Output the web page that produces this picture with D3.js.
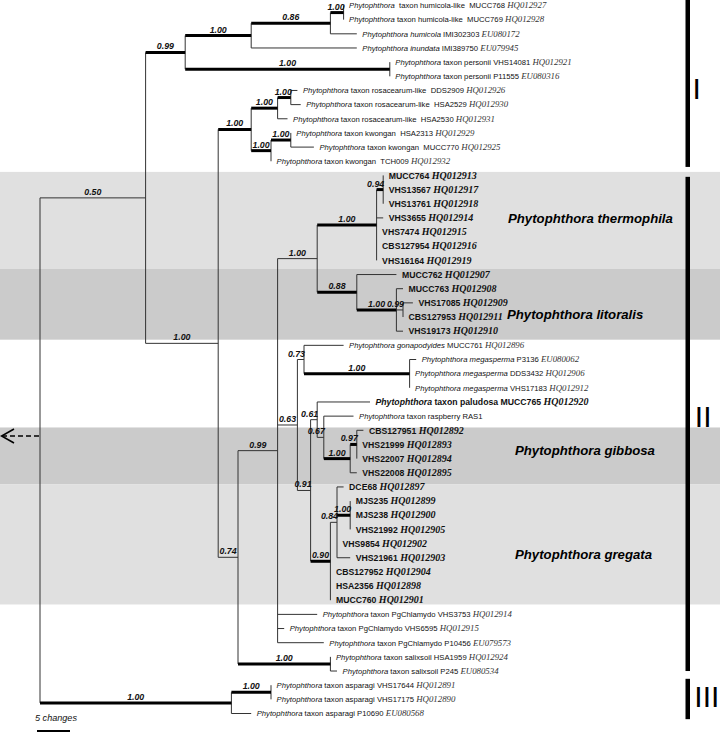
<!DOCTYPE html>
<html><head><meta charset="utf-8">
<script src="https://cdn.jsdelivr.net/npm/d3@7"></script>
<style>
body{margin:0;background:#fff}
svg{display:block}
text{white-space:pre}
</style>
</head><body>
<svg id="chart" width="720" height="733"></svg>
<script>
// ================= DATA =================
// internal clades: [id, parent, branch length (changes), posterior probability, bold branch]
const clades = [
  ["root", "", 0, null, false],
  ["A", "root", 16, 0.50, false],
  ["T1", "A", 6, 0.99, true],
  ["HUM", "T1", 10, 1.00, true],
  ["H086", "HUM", 12, 0.86, true],
  ["H100", "H086", 2, 1.00, true],
  ["PER", "T1", 31, 1.00, true],
  ["B", "A", 11, 1.00, false],
  ["C", "B", 5, 1.00, true],
  ["ROS", "C", 4, 1.00, true],
  ["ROS2", "ROS", 2, 1.00, true],
  ["KW", "C", 3, 1.00, true],
  ["KW2", "KW", 3, 1.00, true],
  ["D", "B", 3, 0.74, false],
  ["E", "D", 6, 0.99, false],
  ["F", "E", 6, 1.00, false],
  ["THE", "F", 9, 1.00, true],
  ["T094", "THE", 1, 0.94, true],
  ["G", "F", 6, 0.88, true],
  ["LIT", "G", 6, 1.00, true],
  ["L099", "LIT", 1, 0.99, false],
  ["H", "E", 3, 0.63, false],
  ["I", "H", 1, 0.73, false],
  ["MEG", "I", 16, 1.00, true],
  ["J", "H", 2, 0.91, false],
  ["K", "J", 1, 0.61, false],
  ["L", "K", 1, 0.67, false],
  ["GIB", "L", 4, 1.00, true],
  ["G097", "GIB", 1, 0.97, true],
  ["M", "J", 3, 0.90, true],
  ["N", "M", 1, 0.84, false],
  ["MJS", "N", 2, 1.00, true],
  ["SAL", "D", 14, 1.00, true],
  ["ASP", "root", 29, 1.00, true],
  ["ASP2", "ASP", 6, 1.00, true]
];

// taxa (top to bottom): [parent, branch length, italic part, plain part, accession, new-species isolate]
const taxa = [
  ["H100", 0, "Phytophthora", "  taxon humicola-like  MUCC768 ", "HQ012927", false],
  ["H100", 0, "Phytophthora", " taxon humicola-like  MUCC769 ", "HQ012928", false],
  ["H086", 4, "Phytophthora humicola", " IMI302303 ", "EU080172", false],
  ["HUM", 16, "Phytophthora inundata", " IMI389750 ", "EU079945", false],
  ["PER", 0, "Phytophthora", " taxon personii VHS14081 ", "HQ012921", false],
  ["PER", 0, "Phytophthora", " taxon personii P11555 ", "EU080316", false],
  ["ROS2", 1, "Phytophthora", " taxon rosacearum-like  DDS2909 ", "HQ012926", false],
  ["ROS2", 1.5, "Phytophthora", " taxon rosacearum-like  HSA2529 ", "HQ012930", false],
  ["ROS", 1.5, "Phytophthora", " taxon rosacearum-like  HSA2530 ", "HQ012931", false],
  ["KW2", 0, "Phytophthora", " taxon kwongan  HSA2313 ", "HQ012929", false],
  ["KW2", 3.5, "Phytophthora", " taxon kwongan  MUCC770 ", "HQ012925", false],
  ["KW", 0, "Phytophthora", " taxon kwongan  TCH009 ", "HQ012932", false],
  ["T094", 0, "", "MUCC764 ", "HQ012913", true],
  ["T094", 0, "", "VHS13567 ", "HQ012917", true],
  ["T094", 0, "", "VHS13761 ", "HQ012918", true],
  ["THE", 1, "", "VHS3655 ", "HQ012914", true],
  ["THE", 0, "", "VHS7474 ", "HQ012915", true],
  ["THE", 0, "", "CBS127954 ", "HQ012916", true],
  ["THE", 0, "", "VHS16164 ", "HQ012919", true],
  ["G", 6, "", "MUCC762 ", "HQ012907", true],
  ["LIT", 1, "", "MUCC763 ", "HQ012908", true],
  ["L099", 1.5, "", "VHS17085 ", "HQ012909", true],
  ["L099", 0, "", "CBS127953 ", "HQ012911", true],
  ["LIT", 1, "", "VHS19173 ", "HQ012910", true],
  ["I", 6, "Phytophthora gonapodyides", " MUCC761 ", "HQ012896", false],
  ["MEG", 1, "Phytophthora megasperma", " P3136 ", "EU080062", false],
  ["MEG", 0, "Phytophthora megasperma", " DDS3432 ", "HQ012906", false],
  ["MEG", 0, "Phytophthora megasperma", " VHS17183 ", "HQ012912", false],
  ["K", 8, "Phytophthora", " taxon paludosa MUCC765 ", "HQ012920", true],
  ["L", 4.5, "Phytophthora", " taxon raspberry RAS1", "", false],
  ["G097", 1, "", "CBS127951 ", "HQ012892", true],
  ["G097", 0, "", "VHS21999 ", "HQ012893", true],
  ["G097", 0, "", "VHS22007 ", "HQ012894", true],
  ["GIB", 1, "", "VHS22008 ", "HQ012895", true],
  ["N", 1, "", "DCE68 ", "HQ012897", true],
  ["MJS", 0, "", "MJS235 ", "HQ012899", true],
  ["MJS", 0, "", "MJS238 ", "HQ012900", true],
  ["MJS", 0, "", "VHS21992 ", "HQ012905", true],
  ["N", 0, "", "VHS9854 ", "HQ012902", true],
  ["N", 2, "", "VHS21961 ", "HQ012903", true],
  ["M", 0, "", "CBS127952 ", "HQ012904", true],
  ["M", 0, "", "HSA2356 ", "HQ012898", true],
  ["M", 0, "", "MUCC760 ", "HQ012901", true],
  ["E", 6, "Phytophthora", " taxon PgChlamydo VHS3753 ", "HQ012914", false],
  ["E", 1, "Phytophthora", " taxon PgChlamydo VHS6595 ", "HQ012915", false],
  ["E", 7, "Phytophthora", " taxon PgChlamydo P10456 ", "EU079573", false],
  ["SAL", 0, "Phytophthora", " taxon salixsoil HSA1959 ", "HQ012924", false],
  ["SAL", 1, "Phytophthora", " taxon salixsoil P245 ", "EU080534", false],
  ["ASP2", 0, "Phytophthora", " taxon asparagi VHS17644 ", "HQ012891", false],
  ["ASP2", 0, "Phytophthora", " taxon asparagi VHS17175 ", "HQ012890", false],
  ["ASP", 3, "Phytophthora", " taxon asparagi P10690 ", "EU080568", false]
];

const speciesNames = ["Phytophthora thermophila", "Phytophthora litoralis", "Phytophthora gibbosa", "Phytophthora gregata"];
const cladeNumerals = ["I", "II", "III"];
const scaleBarChanges = 5;
const scaleBarLabel = "5 changes";

// ================= LAYOUT =================
const speciesBands = [[11.75, 18.6, "#e0e0e0"], [18.6, 23.6, "#cbcbcb"], [29.8, 33.8, "#cbcbcb"], [33.8, 42.3, "#e0e0e0"]];
const speciesLabelPos = [[508, 15], [507, 21.8], [515, 31.4], [515, 38.75]];
const numeralBars = [[-0.4, 11.4], [12.1, 47], [47.55, 50.4]];
const numeralPos = [[692.5, 99], [694.8, 427], [694.3, 707]];
const arrowRow = 30.4;

const SANS = "'Liberation Sans', Arial, sans-serif";
const SERIF = "'Liberation Serif', 'Times New Roman', serif";

const svg = d3.select("#chart");
const x = d3.scaleLinear().domain([0, 100]).range([40, 700]);
const y = d3.scaleLinear().domain([0, taxa.length - 1]).range([5.5, 5.5 + (taxa.length - 1) * 14.16]);

// ---- hierarchy ----
const rows = clades.map(c => ({id: c[0], parentId: c[1] || null, len: c[2], pp: c[3], strong: c[4]}))
  .concat(taxa.map((t, i) => ({id: "t" + i, parentId: t[0], len: t[1], leaf: i, t: t})));
const root = d3.stratify()(rows);
root.eachAfter(n => { n.minLeaf = n.data.leaf !== undefined ? n.data.leaf : d3.min(n.children, c => c.minLeaf); });
root.sort((a, b) => a.minLeaf - b.minLeaf);
root.eachBefore(n => { n.dist = n.parent ? n.parent.dist + n.data.len : 0; n.px = x(n.dist); });
root.eachAfter(n => {
  if (n.children) n.py = (n.children[0].py + n.children[n.children.length - 1].py) / 2;
  else n.py = y(n.data.leaf);
});

// ---- bands ----
svg.append("g").selectAll("rect").data(speciesBands).join("rect")
  .attr("x", 0).attr("width", 720)
  .attr("y", d => y(d[0])).attr("height", d => y(d[1]) - y(d[0]))
  .attr("fill", d => d[2]);

// ---- branches ----
const gTree = svg.append("g");
const nonRoot = root.descendants().filter(n => n.parent);
gTree.selectAll("line.v").data(root.descendants().filter(n => n.children)).join("line")
  .attr("class", "v")
  .attr("x1", n => n.px).attr("x2", n => n.px)
  .attr("y1", n => n.children[0].py).attr("y2", n => n.children[n.children.length - 1].py)
  .attr("stroke", "#333").attr("stroke-width", 1);
gTree.selectAll("line.h").data(nonRoot.filter(n => n.data.len > 0)).join("line")
  .attr("class", "h")
  .attr("x1", n => n.parent.px).attr("x2", n => n.px)
  .attr("y1", n => n.py).attr("y2", n => n.py)
  .attr("stroke", n => n.data.strong ? "#000" : "#333")
  .attr("stroke-width", n => n.data.strong ? 3 : 1);

// ---- support values ----
const shortBranch = n => (n.px - n.parent.px) < 16;
gTree.selectAll("text.pp").data(nonRoot.filter(n => n.data.pp != null)).join("text")
  .attr("class", "pp")
  .attr("x", n => shortBranch(n) ? n.px + 1 : (n.parent.px + n.px) / 2)
  .attr("y", n => n.py - 3)
  .attr("text-anchor", n => shortBranch(n) ? "end" : "middle")
  .attr("font-family", SANS).attr("font-size", 8.8).attr("font-weight", "bold").attr("font-style", "italic")
  .attr("fill", "#111")
  .text(n => n.data.pp.toFixed(2));

// ---- leaf labels ----
const leaves = root.leaves();
const lab = gTree.selectAll("text.leaf").data(leaves).join("text")
  .attr("class", "leaf")
  .attr("x", n => n.px + 5.5)
  .attr("y", n => n.py + (n.data.t[5] ? 3.2 : 2.8))
  .attr("font-family", SANS)
  .attr("fill", "#111");
lab.each(function(n) {
  const t = n.data.t, bold = t[5];
  const s = d3.select(this);
  if (t[2]) s.append("tspan").attr("font-style", "italic").attr("font-weight", bold ? "bold" : null)
      .attr("font-size", bold ? 8.7 : 7.7).text(t[2]);
  s.append("tspan").attr("font-weight", bold ? "bold" : null).attr("font-size", bold ? 8.7 : 7.7).text(t[3]);
  if (t[4]) s.append("tspan").attr("font-family", SERIF).attr("font-style", "italic")
      .attr("font-weight", bold ? "bold" : null).attr("font-size", bold ? 10 : 8.8)
      .attr("fill", bold ? "#111" : "#333").text(t[4]);
});

// ---- species labels ----
svg.append("g").selectAll("text").data(speciesNames).join("text")
  .attr("x", (d, i) => speciesLabelPos[i][0])
  .attr("y", (d, i) => y(speciesLabelPos[i][1]) + 4.7)
  .attr("font-family", SANS).attr("font-size", 13.2).attr("font-weight", "bold").attr("font-style", "italic")
  .attr("fill", "#000").text(d => d);

// ---- clade bars and numerals ----
svg.append("g").selectAll("rect").data(numeralBars).join("rect")
  .attr("x", 685.5).attr("width", 4.5)
  .attr("y", d => Math.max(0, y(d[0]))).attr("height", d => y(d[1]) - Math.max(0, y(d[0])))
  .attr("fill", "#000");
svg.append("g").selectAll("text").data(cladeNumerals).join("text")
  .attr("x", (d, i) => numeralPos[i][0]).attr("y", (d, i) => numeralPos[i][1])
  .attr("font-family", SANS).attr("font-size", 30).attr("fill", "#000")
  .text(d => d);

// ---- arrow to outgroup ----
const ay = y(arrowRow);
svg.append("line").attr("x1", x(0) - 1).attr("x2", 3).attr("y1", ay).attr("y2", ay)
  .attr("stroke", "#000").attr("stroke-width", 1.6).attr("stroke-dasharray", "5,3");
svg.append("polyline").attr("points", `14,${ay - 7} 1.5,${ay} 14,${ay + 7}`)
  .attr("fill", "none").attr("stroke", "#000").attr("stroke-width", 1.6);

// ---- scale bar ----
const sb0 = 37, sb1 = sb0 + (x(scaleBarChanges) - x(0));
svg.append("text").attr("x", 35).attr("y", 721)
  .attr("font-family", SANS).attr("font-size", 9.1).attr("font-style", "italic").attr("fill", "#111")
  .text(scaleBarLabel);
svg.append("line").attr("x1", sb0).attr("x2", sb1).attr("y1", 731).attr("y2", 731)
  .attr("stroke", "#000").attr("stroke-width", 2);
</script>
</body></html>
